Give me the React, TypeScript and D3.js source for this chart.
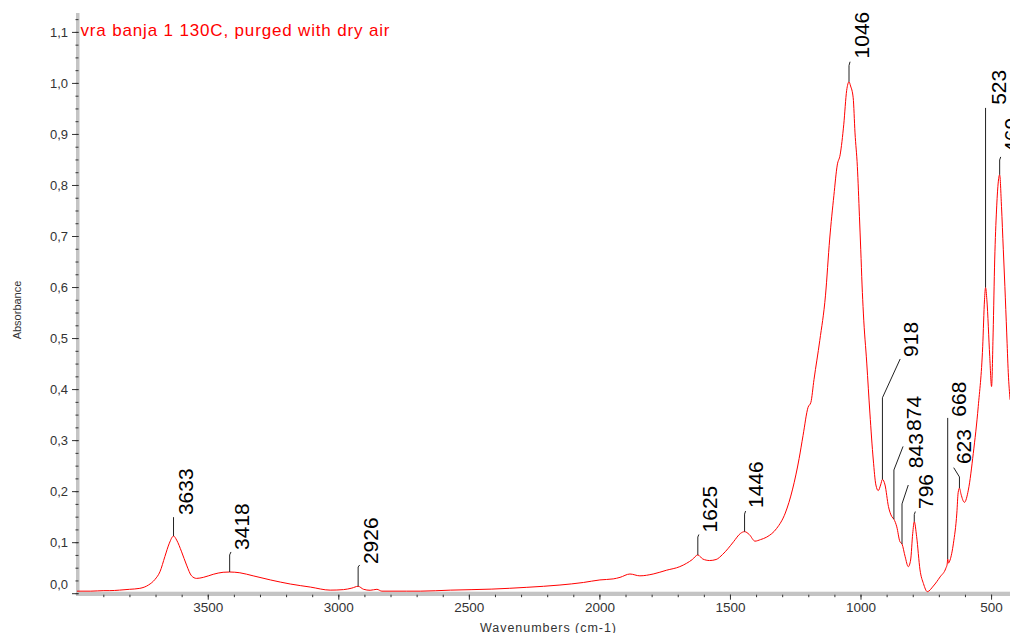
import React from "react";
import * as d3 from "d3";

// FTIR spectrum: wavenumber (cm-1) and absorbance
const wavenumbers = [
  4003, 3950, 3900, 3877, 3840, 3801, 3762, 3729, 3704, 3685, 3666, 3649, 3633, 3621, 3602, 3583, 3564, 3545,
  3519, 3481, 3443, 3418, 3379, 3328, 3262, 3186, 3109, 3033, 2982, 2950, 2926, 2905, 2880, 2854, 2835, 2740,
  2688, 2573, 2414, 2280, 2153, 2063, 2000, 1949, 1923, 1885, 1847, 1796, 1745, 1694, 1668, 1646, 1625, 1606,
  1580, 1555, 1530, 1510, 1488, 1462, 1446, 1428, 1406, 1385, 1361, 1323, 1290, 1262, 1237, 1222, 1203, 1192,
  1180, 1158, 1136, 1120, 1104, 1091, 1080, 1066, 1055, 1046, 1040, 1030, 1023, 1014, 1006, 1001, 996, 991,
  978, 966, 953, 943, 934, 925, 918, 908, 895, 882, 874, 863, 851, 843, 831, 819, 810, 802, 796, 787, 774,
  761, 746, 723, 697, 675, 670, 668, 665, 659, 646, 633, 628, 623, 617, 604, 589, 570, 551, 534, 527, 523,
  518, 507, 500, 494, 488, 481, 469, 462, 455, 449, 442, 436, 429,
];
const absorbance = [
  0.005, 0.005, 0.006, 0.006, 0.007, 0.0086, 0.0105, 0.017, 0.028, 0.043, 0.073, 0.099, 0.113, 0.105, 0.082, 0.056, 0.035, 0.03,
  0.032, 0.038, 0.042, 0.0425, 0.041, 0.035, 0.027, 0.019, 0.013, 0.007, 0.008, 0.011, 0.0145, 0.0086, 0.0067, 0.0086, 0.005, 0.005,
  0.005, 0.007, 0.009, 0.0125, 0.017, 0.022, 0.027, 0.029, 0.032, 0.0386, 0.035, 0.0386, 0.046, 0.053, 0.0596, 0.067, 0.076, 0.068,
  0.065, 0.067, 0.077, 0.088, 0.102, 0.118, 0.1216, 0.116, 0.103, 0.106, 0.111, 0.128, 0.158, 0.205, 0.265, 0.31, 0.365, 0.375,
  0.42, 0.496, 0.585, 0.695, 0.78, 0.84, 0.86, 0.92, 0.986, 1.003, 0.995, 0.972, 0.903, 0.837, 0.739, 0.674, 0.605, 0.55,
  0.452, 0.354, 0.262, 0.213, 0.202, 0.213, 0.224, 0.213, 0.171, 0.151, 0.146, 0.131, 0.102, 0.0975, 0.0726, 0.053, 0.066, 0.118, 0.141, 0.112, 0.0465,
  0.02, 0.004, 0.015, 0.033, 0.05, 0.058, 0.068, 0.06, 0.066, 0.099, 0.158, 0.198, 0.207, 0.195, 0.179, 0.203, 0.275, 0.367, 0.484, 0.576, 0.6,
  0.576, 0.465, 0.406, 0.511, 0.654, 0.752, 0.821, 0.759, 0.674, 0.602, 0.511, 0.433, 0.38,
];

// peak annotations
const peakLabels = ["3633", "3418", "2926", "1625", "1446", "1046", "918", "874", "843", "796", "668", "623", "523", "469"];
const peakWn = [3633, 3418, 2926, 1625, 1446, 1046, 918, 874, 843, 796, 668, 623, 523, 469];
const leaderTop = [0.15, 0.076, 0.0524, 0.111, 0.156, 1.035, 0.384, 0.2425, 0.176, 0.155, 0.3445, 0.2288, 0.952, 0.85];
const leaderTipWn = [3633, 3413, 2920, 1621, 1442, 1042, 850, 839, 819, 792, 668, 645, 523, 465];
const leaderTipAbs = [0.15, 0.0818, 0.0563, 0.116, 0.162, 1.0425, 0.46, 0.2886, 0.213, 0.161, 0.3445, 0.247, 0.952, 0.856];
const labelWn = [3560, 3345, 2851, 1553, 1375, 968, 782, 770, 763, 725, 597, 578, 444, 394];
const labelAbs = [0.154, 0.0857, 0.058, 0.12, 0.168, 1.049, 0.464, 0.319, 0.246, 0.166, 0.347, 0.254, 0.958, 0.864];

const xMajor = [3500, 3000, 2500, 2000, 1500, 1000, 500];
const xMinor = d3.range(500, 4000, 100);
const yMajor = [0, 0.1, 0.2, 0.3, 0.4, 0.5, 0.6, 0.7, 0.8, 0.9, 1.0, 1.1];
const yMinor = d3.range(0, 1.14, 0.025);

const title = "vra banja 1 130C, purged with dry air";

const W = 1010;
const H = 633;
const left = 77;
const right = 1010;
const top = 13;
const bottom = 593.7;
const font = "'Liberation Sans', Arial, sans-serif";

export default function App() {
  const x = d3.scaleLinear().domain([4002.7, 429.4]).range([left, right]);
  const y = d3.scaleLinear().domain([0, 1.138]).range([bottom, top]);

  const pts = wavenumbers.map((w, i) => [w, absorbance[i]] as [number, number]);
  const line = d3
    .line<[number, number]>()
    .x((d) => x(d[0]))
    .y((d) => y(d[1]))
    .curve(d3.curveMonotoneX);

  // absorbance at a wavenumber (data is in descending order)
  const valueAt = (w: number) => {
    const i = pts.findIndex((p) => p[0] <= w);
    if (i <= 0) return pts[Math.max(i, 0)][1];
    const [w0, a0] = pts[i - 1];
    const [w1, a1] = pts[i];
    return a0 + ((w - w0) / (w1 - w0)) * (a1 - a0);
  };

  const fmtY = (v: number) => d3.format(".1f")(v).replace(".", ",");

  return (
    <svg
      width={W}
      height={H}
      style={{ position: "absolute", left: 0, top: 0, background: "#fff" }}
      fontFamily={font}
    >
      {/* axis bands */}
      <rect x={left - 1} y={top} width={3.5} height={bottom - top + 2} fill="#c4c4c4" />
      <rect x={left - 1} y={bottom - 2} width={right - left + 1} height={4.3} fill="#c4c4c4" />

      {/* y ticks */}
      {yMinor.map((v, i) => (
        <line key={"ym" + i} x1={left - 1.5} x2={left + 1.5} y1={y(v)} y2={y(v)} stroke="#333" strokeWidth={1} />
      ))}
      {yMajor.map((v, i) => (
        <g key={"yM" + i}>
          <line x1={left - 5} x2={left + 1.5} y1={y(v)} y2={y(v)} stroke="#333" strokeWidth={1} />
          <text
            x={68}
            y={Math.min(y(v), bottom - 9)}
            textAnchor="end"
            dominantBaseline="central"
            fontSize={13}
            fill="#333"
          >
            {fmtY(v)}
          </text>
        </g>
      ))}

      {/* x ticks */}
      {xMinor.map((w, i) => (
        <line key={"xm" + i} x1={x(w)} x2={x(w)} y1={bottom + 1} y2={bottom + 3.5} stroke="#333" strokeWidth={1} />
      ))}
      {xMajor.map((w, i) => (
        <g key={"xM" + i}>
          <line x1={x(w)} x2={x(w)} y1={bottom + 1} y2={bottom + 6} stroke="#333" strokeWidth={1} />
          <text x={x(w)} y={611.5} textAnchor="middle" fontSize={13.5} fill="#333">
            {w}
          </text>
        </g>
      ))}

      {/* axis titles */}
      <text x={548} y={631.5} textAnchor="middle" fontSize={12.5} fill="#333" textLength={136} lengthAdjust="spacing">
        Wavenumbers (cm-1)
      </text>
      <text transform="translate(20.7,310) rotate(-90)" textAnchor="middle" fontSize={11} fill="#333">
        Absorbance
      </text>

      {/* spectrum */}
      <path d={line(pts) || ""} fill="none" stroke="#ff0000" strokeWidth={1} />

      {/* peak labels */}
      {peakLabels.map((lab, i) => {
        const px = x(peakWn[i]);
        const pts2: [number, number][] = [
          [px, y(valueAt(peakWn[i]))],
          [px, y(leaderTop[i])],
          [x(leaderTipWn[i]), y(leaderTipAbs[i])],
        ];
        return (
          <g key={"pk" + i}>
            <path d={d3.line()(pts2) || ""} fill="none" stroke="#222" strokeWidth={1} />
            <text
              transform={`translate(${x(labelWn[i])},${y(labelAbs[i])}) rotate(-90)`}
              fontSize={21}
              fill="#000"
            >
              {lab}
            </text>
          </g>
        );
      })}

      {/* title */}
      <text x={80.5} y={35.5} fontSize={17} fill="#ff0000" textLength={309} lengthAdjust="spacing">
        {title}
      </text>
    </svg>
  );
}
